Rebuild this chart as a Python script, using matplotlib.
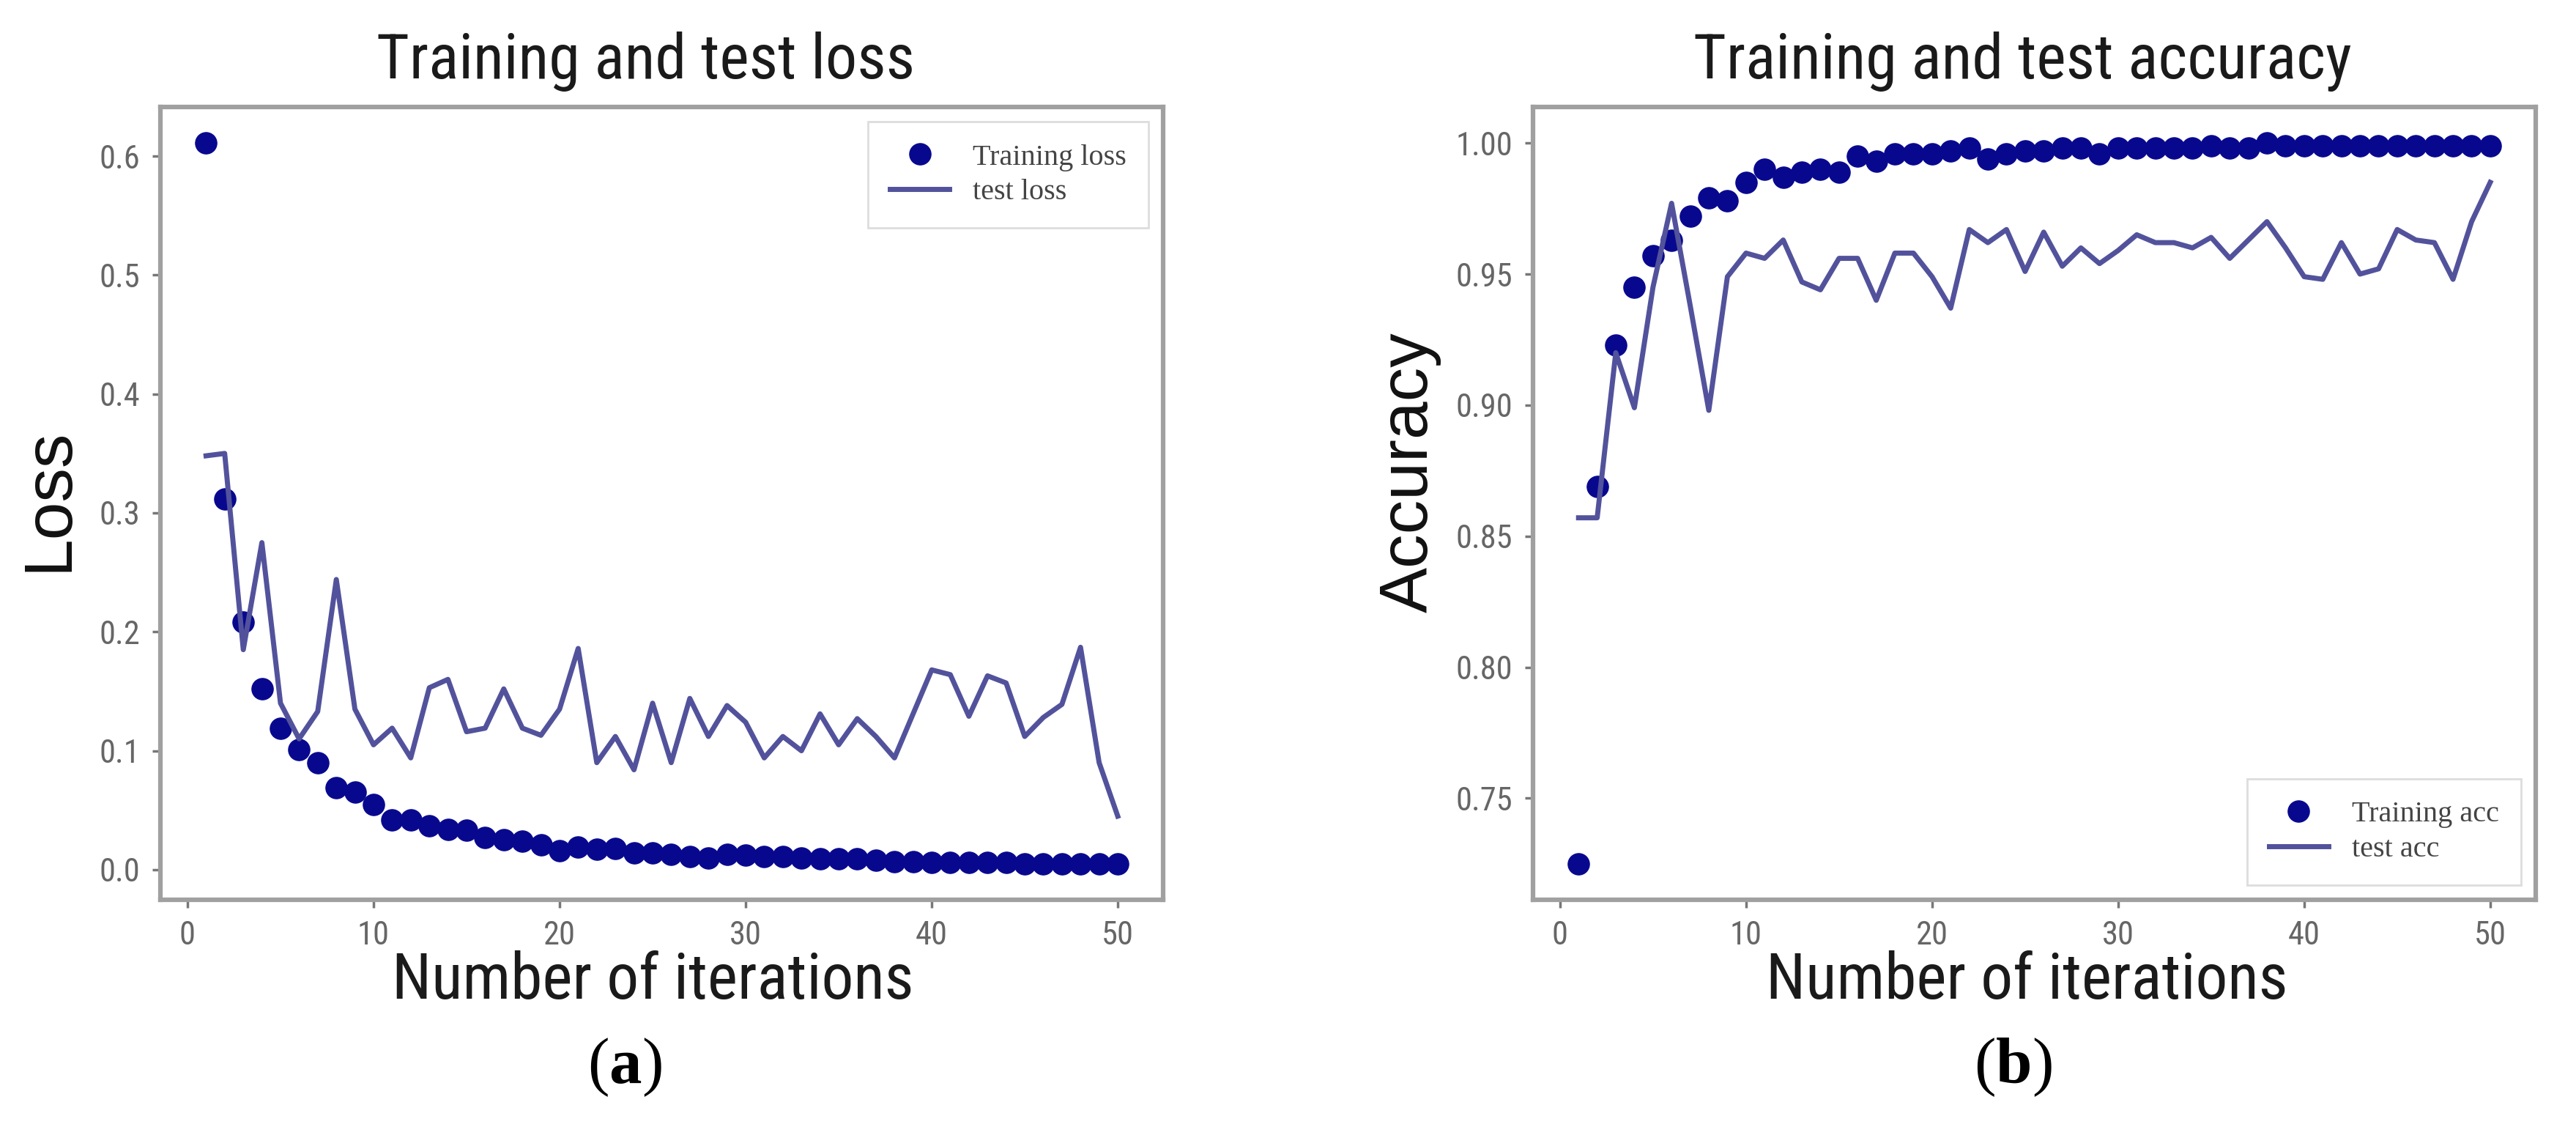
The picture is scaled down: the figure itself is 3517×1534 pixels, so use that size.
import matplotlib
matplotlib.use('Agg')
import matplotlib.pyplot as plt
from matplotlib import font_manager

# iteraciones y valores
iterations = list(range(1, 51))

train_loss = [0.611, 0.312, 0.208, 0.152, 0.119, 0.101, 0.090, 0.069, 0.065, 0.055,
              0.042, 0.042, 0.037, 0.034, 0.033, 0.027, 0.025, 0.024, 0.021, 0.016,
              0.019, 0.017, 0.018, 0.014, 0.014, 0.013, 0.011, 0.010, 0.013, 0.012,
              0.011, 0.011, 0.010, 0.009, 0.009, 0.009, 0.008, 0.007, 0.007, 0.006,
              0.006, 0.006, 0.006, 0.006, 0.005, 0.005, 0.005, 0.005, 0.005, 0.005]
test_loss = [0.348, 0.350, 0.185, 0.275, 0.140, 0.110, 0.133, 0.244, 0.135, 0.105,
             0.119, 0.094, 0.153, 0.160, 0.116, 0.119, 0.152, 0.119, 0.113, 0.135,
             0.186, 0.090, 0.112, 0.084, 0.140, 0.090, 0.144, 0.112, 0.138, 0.124,
             0.094, 0.112, 0.100, 0.131, 0.105, 0.127, 0.112, 0.094, 0.131, 0.168,
             0.164, 0.129, 0.163, 0.157, 0.112, 0.128, 0.139, 0.187, 0.090, 0.045]

train_acc = [0.725, 0.869, 0.923, 0.945, 0.957, 0.963, 0.972, 0.979, 0.978, 0.985,
             0.990, 0.987, 0.989, 0.990, 0.989, 0.995, 0.993, 0.996, 0.996, 0.996,
             0.997, 0.998, 0.994, 0.996, 0.997, 0.997, 0.998, 0.998, 0.996, 0.998,
             0.998, 0.998, 0.998, 0.998, 0.999, 0.998, 0.998, 1.000, 0.999, 0.999,
             0.999, 0.999, 0.999, 0.999, 0.999, 0.999, 0.999, 0.999, 0.999, 0.999]
test_acc = [0.857, 0.857, 0.920, 0.899, 0.945, 0.977, 0.938, 0.898, 0.949, 0.958,
            0.956, 0.963, 0.947, 0.944, 0.956, 0.956, 0.940, 0.958, 0.958, 0.949,
            0.937, 0.967, 0.962, 0.967, 0.951, 0.966, 0.953, 0.960, 0.954, 0.959,
            0.965, 0.962, 0.962, 0.960, 0.964, 0.956, 0.963, 0.970, 0.960, 0.949,
            0.948, 0.962, 0.950, 0.952, 0.967, 0.963, 0.962, 0.948, 0.970, 0.985]

# fuente estrecha normal si existe; si no, Roboto mas pequena
narrow_file = None
for f in font_manager.fontManager.ttflist:
    if f.name in ('Roboto Condensed', 'Liberation Sans Narrow') and f.weight in (400, 'normal', 'regular') \
            and f.style == 'normal':
        narrow_file = f.fname
        break

if narrow_file:
    def head_font(size):
        return font_manager.FontProperties(fname=narrow_file, size=size)
    scale = 1.0
else:
    def head_font(size):
        return font_manager.FontProperties(family='Roboto', size=size)
    scale = 0.82

# letra en negrita dentro de los parentesis
plt.rcParams['mathtext.fontset'] = 'custom'
plt.rcParams['mathtext.rm'] = 'Liberation Serif'
plt.rcParams['mathtext.bf'] = 'Liberation Serif:bold'

dot_color = '#08088f'
line_color = '#52529c'
spine_color = '#a0a0a0'

fig = plt.figure(figsize=(35.17, 15.34), dpi=100)
ax1 = fig.add_axes([0.0623, 0.1995, 0.3893, 0.7053])
ax2 = fig.add_axes([0.5951, 0.1995, 0.3893, 0.7053])

ax1.plot(iterations, train_loss, 'o', color=dot_color, markersize=21, label='Training loss')
ax1.plot(iterations, test_loss, '-', color=line_color, linewidth=5, label='test loss')
ax2.plot(iterations, train_acc, 'o', color=dot_color, markersize=21, label='Training acc')
ax2.plot(iterations, test_acc, '-', color=line_color, linewidth=5, label='test acc')

for ax, loc in [(ax1, 'upper right'), (ax2, 'lower right')]:
    for s in ax.spines.values():
        s.set_color(spine_color)
        s.set_linewidth(4.5)
    ax.tick_params(length=8, width=2.5, color='#777777', pad=12, labelcolor='#666666')
    for lab in ax.get_xticklabels() + ax.get_yticklabels():
        lab.set_fontproperties(head_font(32 * scale))
    leg = ax.legend(loc=loc, prop={'family': 'Liberation Serif', 'size': 29},
                    labelspacing=0.25, borderpad=0.75, fancybox=False, framealpha=1)
    leg.get_frame().set_edgecolor('#dddddd')
    leg.get_frame().set_linewidth(2)
    for t in leg.get_texts():
        t.set_color('#444444')

# titulos, etiquetas y subtitulos (a), (b)
W, H = 3517.0, 1534.0
fig.text(882 / W, 1 - 107 / H, 'Training and test loss', fontproperties=head_font(62 * scale),
         ha='center', va='baseline', color='#1a1a1a')
fig.text(2761 / W, 1 - 107 / H, 'Training and test accuracy', fontproperties=head_font(62 * scale),
         ha='center', va='baseline', color='#1a1a1a')
fig.text(891 / W, 1 - 1363 / H, 'Number of iterations', fontproperties=head_font(63 * scale),
         ha='center', va='baseline', color='#1a1a1a')
fig.text(2767 / W, 1 - 1363 / H, 'Number of iterations', fontproperties=head_font(63 * scale),
         ha='center', va='baseline', color='#1a1a1a')
fig.text(67 / W, 1 - 682 / H, 'Loss', family='Liberation Sans', fontsize=67,
         rotation=90, ha='center', va='center', color='#111111')
fig.text(1925 / W, 1 - 645 / H, 'Accuracy', family='Liberation Sans', fontsize=67,
         rotation=90, ha='center', va='center', color='#111111')
fig.text(853 / W, 1 - 1478 / H, r'($\mathbf{a}$)', family='Liberation Serif', fontsize=64,
         ha='center', va='baseline')
fig.text(2748 / W, 1 - 1478 / H, r'($\mathbf{b}$)', family='Liberation Serif', fontsize=64,
         ha='center', va='baseline')

plt.savefig('out.png', dpi=100)
